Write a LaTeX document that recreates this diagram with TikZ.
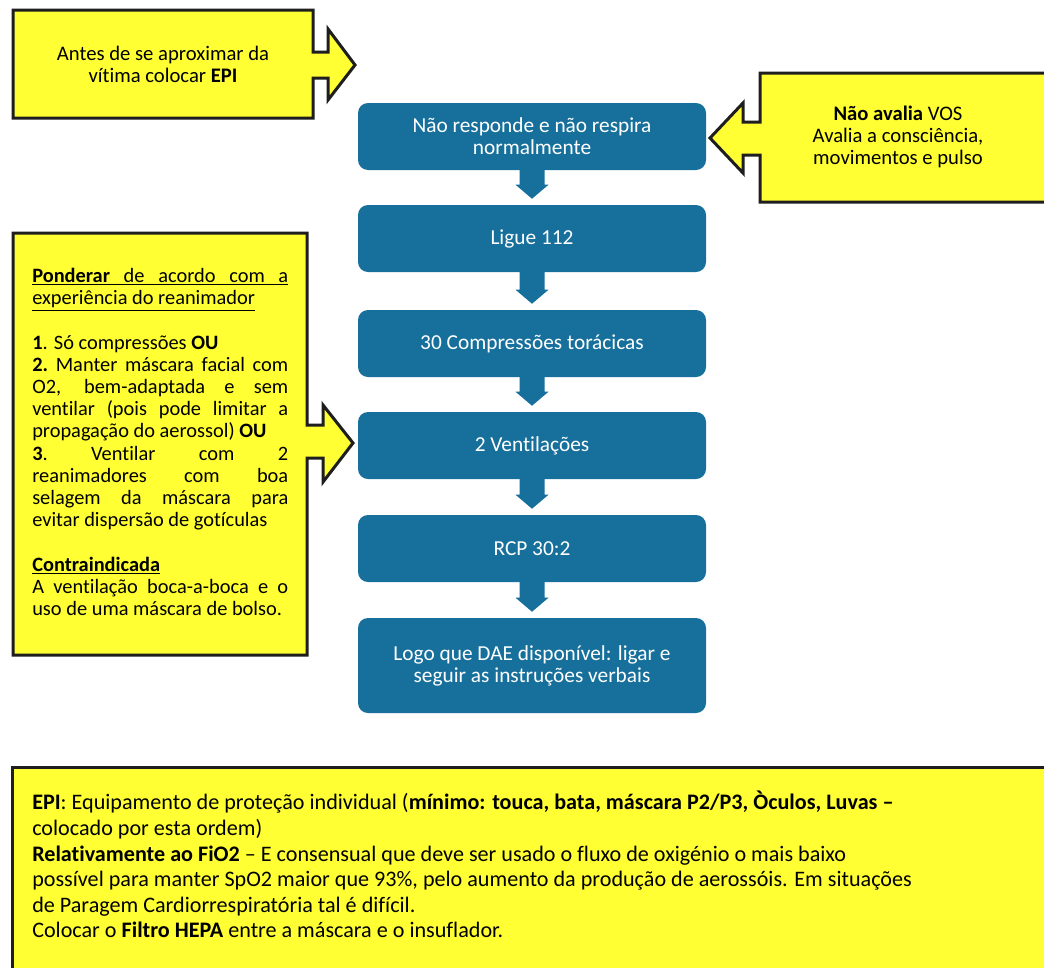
\documentclass[tikz,border=0pt]{standalone}
\usepackage{fontspec}
\setmainfont{Carlito}[Ligatures=NoCommon]
\usetikzlibrary{calc}
\definecolor{boxblue}{HTML}{17709B}
\definecolor{callyellow}{HTML}{FFFF33}
\definecolor{edgecol}{HTML}{1E1E1E}
\newcommand\flowlink[2]{%
  \fill[boxblue] ($(#1.south)+(-12.5,-1)$) -- ($(#2.north)+(-12.5,-20)$)
    -- ($(#2.north)+(-16.5,-20)$) -- ($(#2.north)+(0,-6)$)
    -- ($(#2.north)+(16.5,-20)$) -- ($(#2.north)+(12.5,-20)$)
    -- ($(#1.south)+(12.5,-1)$) -- cycle;}
\newlength\linew
\setlength\linew{192pt}
\newcommand\jline[1]{\hbox to \linew{\spaceskip=0.22em plus 1fil\relax\xspaceskip=\spaceskip #1}}
\newcommand\rline[1]{\hbox to \linew{#1\hfil}}
\begin{document}
\begin{tikzpicture}[x=0.75pt,y=-0.75pt,
  flowbox/.style={fill=boxblue, rounded corners=7.5pt, minimum width=261pt,
    minimum height=50.25pt, text=white, align=center,
    font=\fontsize{16}{16.5}\selectfont, inner sep=0pt},
  callout/.style={fill=callyellow, draw=edgecol, line width=2.25pt, line join=miter},
  calltext/.style={align=center, font=\fontsize{15.5}{16.5}\selectfont, text=black, inner sep=0pt},
  lefttext/.style={align=left, font=\fontsize{15.3}{16.65}\selectfont, text=black, inner sep=0pt},
  bottext/.style={align=left, font=\fontsize{16.6}{19.2}\selectfont, text=black, inner sep=0pt}]
\useasboundingbox (0,0) rectangle (1044,967);
\fill[white] (0,0) rectangle (1044,967);

% flow boxes
\node[flowbox] (b1) at (532,136.5) {Não responde e não respira\\normalmente};
\node[flowbox] (b2) at (532,238.5) {Ligue 112};
\node[flowbox] (b3) at (532,343.5) {30 Compressões torácicas};
\node[flowbox] (b4) at (532,445.5) {2 Ventilações};
\node[flowbox] (b5) at (532,548.5) {RCP 30:2};
\node[flowbox, minimum height=71.25pt] (b6) at (532,665.5) {Logo que DAE disponível: ligar e\\seguir as instruções verbais};
\flowlink{b1}{b2}
\flowlink{b2}{b3}
\flowlink{b3}{b4}
\flowlink{b4}{b5}
\flowlink{b5}{b6}

% top-left callout
\draw[callout] (13,10) -- (313,10) -- (313,52) -- (328,52) -- (328,29) -- (355,65)
  -- (328,100) -- (328,78) -- (313,78) -- (313,118) -- (13,118) -- cycle;
\node[calltext] (t1) at (163,64) {Antes de se aproximar da\\vítima colocar \textbf{EPI}};

% right callout
\draw[callout] (1050,73) -- (760,73) -- (760,122) -- (743,122) -- (743,103) -- (710,138)
  -- (743,173) -- (743,155) -- (760,155) -- (760,202) -- (1050,202) -- cycle;
\node[calltext] (t2) at (898,137) {\textbf{Não avalia} VOS\\Avalia a consciência,\\movimentos e pulso};

% left callout
\draw[callout] (13,233) -- (307,233) -- (307,425) -- (323,425) -- (323,405) -- (353,443)
  -- (323,482) -- (323,458) -- (307,458) -- (307,655) -- (13,655) -- cycle;
\node[lefttext, anchor=north west] (t3) at (32,268) {%
\underline{\jline{\textbf{Ponderar} de acordo com a}}\\
\underline{experiência do reanimador}\\
\mbox{}\\
\rline{\textbf{1}. Só compressões \textbf{OU}}\\
\jline{\textbf{2.} Manter máscara facial com}\\
\jline{O2, bem-adaptada e sem}\\
\jline{ventilar (pois pode limitar a}\\
\rline{propagação do aerossol) \textbf{OU}}\\
\jline{\textbf{3}. Ventilar com 2}\\
\jline{reanimadores com boa}\\
\jline{selagem da máscara para}\\
\rline{evitar dispersão de gotículas}\\
\mbox{}\\
\underline{\textbf{Contraindicada}}\\
\jline{A ventilação boca-a-boca e o}\\
\rline{uso de uma máscara de bolso.}};

% bottom box
\draw[callout] (12,767) -- (1050,767) -- (1050,975) -- (12,975) -- cycle;
\node[bottext, anchor=north west] (t4) at (32,791) {%
\textbf{EPI}: Equipamento de proteção individual (\textbf{mínimo: touca, bata, máscara P2/P3, Òculos, Luvas –}\\
colocado por esta ordem)\\
\textbf{Relativamente ao FiO2} – E consensual que deve ser usado o fluxo de oxigénio o mais baixo\\
possível para manter SpO2 maior que 93\%, pelo aumento da produção de aerossóis. Em situações\\
de Paragem Cardiorrespiratória tal é difícil.\\
Colocar o \textbf{Filtro HEPA} entre a máscara e o insuflador.};
\end{tikzpicture}
\end{document}
